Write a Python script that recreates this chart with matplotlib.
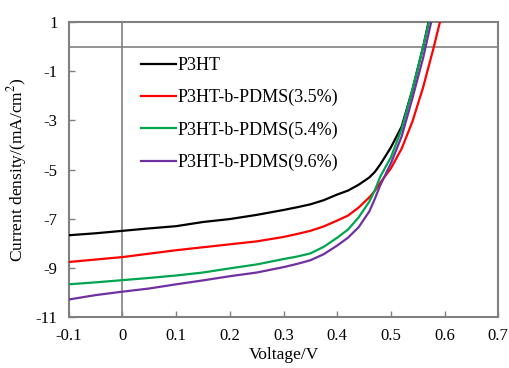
import matplotlib
matplotlib.use("Agg")
import matplotlib.pyplot as plt

plt.rcParams['font.family'] = ['Liberation Serif', 'DejaVu Serif']
plt.rcParams['mathtext.fontset'] = 'stix'

# voltagem (V) e densidade de corrente (mA/cm2)
voltage = [-0.1, -0.05, 0.0, 0.05, 0.1, 0.15, 0.2, 0.25, 0.3, 0.325, 0.35, 0.375, 0.4,
           0.42, 0.44, 0.46, 0.47, 0.48, 0.5, 0.52, 0.54, 0.56, 0.58, 0.6]

j_p3ht = [-7.68, -7.60, -7.50, -7.40, -7.31, -7.14, -7.02, -6.85, -6.65, -6.54, -6.42, -6.25, -6.02,
          -5.86, -5.62, -5.32, -5.10, -4.80, -4.10, -3.25, -1.75, 0.0, 2.0, 4.0]
j_35 = [-8.77, -8.67, -8.57, -8.43, -8.29, -8.17, -8.05, -7.93, -7.75, -7.63, -7.50, -7.32, -7.08,
        -6.88, -6.55, -6.13, -5.87, -5.55, -4.95, -4.15, -3.05, -1.65, 0.0, 1.8]
j_54 = [-9.68, -9.60, -9.51, -9.42, -9.32, -9.20, -9.03, -8.87, -8.65, -8.55, -8.42, -8.15, -7.78,
        -7.45, -6.95, -6.30, -5.85, -5.30, -4.50, -3.35, -1.75, 0.0, 1.9, 4.0]
j_96 = [-10.30, -10.12, -9.98, -9.85, -9.68, -9.52, -9.35, -9.20, -8.98, -8.85, -8.70, -8.45, -8.10,
        -7.78, -7.35, -6.70, -6.20, -5.65, -4.75, -3.65, -2.10, -0.45, 1.5, 3.5]

series = [
    ("P3HT", j_p3ht, "black"),
    ("P3HT-b-PDMS(3.5%)", j_35, "#ff0000"),
    ("P3HT-b-PDMS(5.4%)", j_54, "#00a550"),
    ("P3HT-b-PDMS(9.6%)", j_96, "#7030a0"),
]

fig = plt.figure(figsize=(5.09, 3.68), dpi=100)
ax = fig.add_axes([0.135, 0.1394, 0.844, 0.80])

ax.axhline(0, color="#808080", lw=1.2, zorder=1)
ax.axvline(0, color="#808080", lw=1.2, zorder=1)

for nome, j, cor in series:
    ax.plot(voltage, j, color=cor, lw=1.6, label=nome, zorder=3)

ax.set_xlim(-0.1, 0.7)
ax.set_ylim(-11, 1)
ax.set_xticks([-0.1, 0, 0.1, 0.2, 0.3, 0.4, 0.5, 0.6, 0.7])
ax.set_xticklabels(["-0.1", "0", "0.1", "0.2", "0.3", "0.4", "0.5", "0.6", "0.7"])
ax.set_yticks([1, -1, -3, -5, -7, -9, -11])
ax.set_yticklabels(["1", "-1", "-3", "-5", "-7", "-9", "-11"])
ax.tick_params(direction="in", length=4, width=1, color="#808080",
               labelsize=12, pad=8)

for s in ax.spines.values():
    s.set_color("#808080")
    s.set_linewidth(1.5)

ax.set_xlabel("Voltage/V", fontsize=12.5, labelpad=2)
ax.set_ylabel("Current density/(mA/cm$^2$)", fontsize=12.5, labelpad=5)

ax.legend(loc="upper left", bbox_to_anchor=(0.169, 0.882), frameon=False,
          fontsize=13, handlelength=1.9, handletextpad=0.12,
          labelspacing=0.83, borderpad=0, borderaxespad=0)

fig.savefig("out.png", dpi=100)
